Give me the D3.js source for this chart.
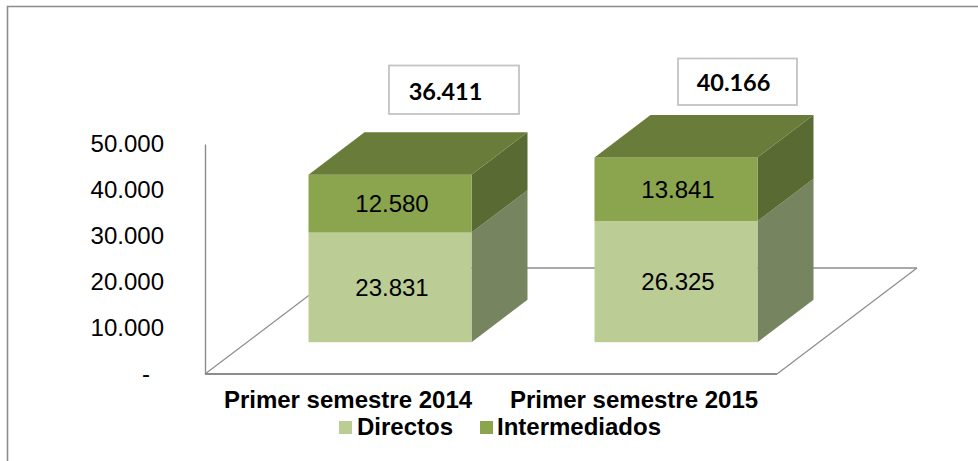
<!DOCTYPE html>
<html>
<head>
<meta charset="utf-8">
<script src="https://cdn.jsdelivr.net/npm/d3@7"></script>
<style>
  html, body { margin: 0; padding: 0; background: #fff; overflow: hidden; }
  svg { display: block; }
  text { font-family: "Liberation Sans", Arial, sans-serif; fill: #000; }
</style>
</head>
<body>
<div id="app"></div>
<script>
const categories = ['Primer semestre 2014', 'Primer semestre 2015'];
const seriesNames = ['Directos', 'Intermediados'];
const directos = [23831, 26325];
const intermediados = [12580, 13841];
const totals = [36411, 40166];
const yTicks = [0, 10000, 20000, 30000, 40000, 50000];

const w = 978;
const h = 461;

const svg = d3.select('#app')
  .append('svg')
  .attr('width', w)
  .attr('height', h);

const es = d3.formatLocale({ decimal: ',', thousands: '.', grouping: [3], currency: ['', ''] });
const fmt = es.format(',d');

// outer frame, only top and left are visible in the picture
svg.append('path')
  .attr('d', 'M7.5,461V6.5H978')
  .attr('fill', 'none')
  .attr('stroke', '#8c8c8c')
  .attr('stroke-width', 1.6);

/////////SCALES//////////
const xScale = d3.scaleBand()
  .domain(categories)
  .range([205, 777])
  .paddingInner(0)
  .paddingOuter(0);

const yScale = d3.scaleLinear()
  .domain([0, 50000])
  .range([374, 144]);

// depth of the 3d floor, 0 is the front edge and 1 the back wall
const depthX = d3.scaleLinear().domain([0, 1]).range([0, 140]);
const depthY = d3.scaleLinear().domain([0, 1]).range([0, -106]);
const barWidth = 163;
const barDepthStart = 0.3;
const barDepthEnd = 0.7;

/////////FLOOR//////////
const floorPoint = (p) => [
  xScale.range()[0] + (xScale.range()[1] - xScale.range()[0]) * p[1] + depthX(p[0]),
  yScale(0) + depthY(p[0])
];

svg.append('line')
  .attr('x1', floorPoint([0, 0])[0]).attr('y1', floorPoint([0, 0])[1])
  .attr('x2', floorPoint([1, 0])[0]).attr('y2', floorPoint([1, 0])[1])
  .attr('stroke', '#8c8c8c').attr('stroke-width', 1.2);

svg.append('line')
  .attr('x1', floorPoint([1, 0])[0]).attr('y1', floorPoint([1, 0])[1])
  .attr('x2', floorPoint([1, 1])[0]).attr('y2', floorPoint([1, 1])[1])
  .attr('stroke', '#8c8c8c').attr('stroke-width', 1.6);

svg.append('line')
  .attr('x1', floorPoint([1, 1])[0]).attr('y1', floorPoint([1, 1])[1])
  .attr('x2', floorPoint([0, 1])[0]).attr('y2', floorPoint([0, 1])[1])
  .attr('stroke', '#8c8c8c').attr('stroke-width', 1.2);

svg.append('line')
  .attr('x1', floorPoint([0, 0])[0]).attr('y1', floorPoint([0, 0])[1])
  .attr('x2', floorPoint([0, 1])[0]).attr('y2', floorPoint([0, 1])[1])
  .attr('stroke', '#8c8c8c').attr('stroke-width', 1.8);

/////////AXES//////////
const yAxis = d3.axisLeft(yScale)
  .tickValues(yTicks)
  .tickSize(0)
  .tickPadding(41)
  .tickFormat((d) => d === 0 ? '-' : fmt(d));

const yG = svg.append('g')
  .attr('transform', 'translate(205,0)')
  .call(yAxis);

yG.select('.domain').attr('stroke', '#8c8c8c').attr('stroke-width', 1.4);
yG.selectAll('text')
  .style('font-family', '"Liberation Sans", Arial, sans-serif')
  .style('font-size', '24px')
  .attr('dx', (d) => d === 0 ? -14 : 0);

const xAxis = d3.axisBottom(xScale).tickSize(0).tickPadding(17);

const xG = svg.append('g')
  .attr('transform', 'translate(0,374)')
  .call(xAxis);

xG.select('.domain').remove();
xG.selectAll('text')
  .style('font-family', '"Liberation Sans", Arial, sans-serif')
  .style('font-size', '24px')
  .style('font-weight', 'bold');

/////////BARS//////////
const stackData = categories.map((c, i) => ({ category: c, Directos: directos[i], Intermediados: intermediados[i] }));
const stacked = d3.stack().keys(seriesNames)(stackData);

const frontColors = d3.scaleOrdinal().domain(seriesNames).range(['#bbcd95', '#8aa54e']);
const sideColors = d3.scaleOrdinal().domain(seriesNames).range(['#76845f', '#596b33']);
const topColor = '#6a7c3a';

const shiftX = depthX(barDepthEnd) - depthX(barDepthStart);
const shiftY = depthY(barDepthEnd) - depthY(barDepthStart);
const barLeft = (c) => xScale(c) + xScale.bandwidth() / 2 + depthX(barDepthStart) - barWidth / 2;
const barY = (v) => yScale(v) + depthY(barDepthStart);

const toPath = (pts) => 'M' + pts.map((p) => p.join(',')).join('L') + 'Z';

const layers = svg.selectAll('.layer')
  .data(stacked)
  .enter()
  .append('g')
  .attr('class', 'layer');

// side faces
layers.selectAll('.side')
  .data((s) => s.map((d) => ({ key: s.key, d0: d[0], d1: d[1], category: d.data.category })))
  .enter()
  .append('path')
  .attr('class', 'side')
  .attr('fill', (d) => sideColors(d.key))
  .attr('d', (d) => {
    const x = barLeft(d.category) + barWidth;
    return toPath([
      [x, barY(d.d0)],
      [x + shiftX, barY(d.d0) + shiftY],
      [x + shiftX, barY(d.d1) + shiftY],
      [x, barY(d.d1)]
    ]);
  });

// front faces
layers.selectAll('.front')
  .data((s) => s.map((d) => ({ key: s.key, d0: d[0], d1: d[1], category: d.data.category })))
  .enter()
  .append('rect')
  .attr('class', 'front')
  .attr('x', (d) => barLeft(d.category))
  .attr('y', (d) => barY(d.d1))
  .attr('width', barWidth)
  .attr('height', (d) => barY(d.d0) - barY(d.d1))
  .attr('fill', (d) => frontColors(d.key));

// top faces
svg.selectAll('.top')
  .data(categories)
  .enter()
  .append('path')
  .attr('class', 'top')
  .attr('fill', topColor)
  .attr('d', (c, i) => {
    const x = barLeft(c);
    const y = barY(totals[i]);
    return toPath([
      [x, y],
      [x + shiftX, y + shiftY],
      [x + shiftX + barWidth, y + shiftY],
      [x + barWidth, y]
    ]);
  });

// value labels
layers.selectAll('.value')
  .data((s) => s.map((d) => ({ d0: d[0], d1: d[1], value: d[1] - d[0], category: d.data.category })))
  .enter()
  .append('text')
  .attr('class', 'value')
  .attr('x', (d) => barLeft(d.category) + barWidth / 2 + 2)
  .attr('y', (d) => (barY(d.d0) + barY(d.d1)) / 2)
  .attr('dy', '0.35em')
  .attr('text-anchor', 'middle')
  .style('font-size', '24px')
  .text((d) => fmt(d.value));

//////////TOTAL BOXES//////////
const boxLeft = [389, 678];
const boxTop = [65.5, 58.5];
const boxWidth = [130, 119];
const boxHeight = [48.5, 46.5];
const totalTextX = [445.5, 733.5];
const totalTextY = [92, 83];

const boxes = svg.selectAll('.box')
  .data(totals)
  .enter()
  .append('g')
  .attr('class', 'box');

boxes.append('rect')
  .attr('x', (d, i) => boxLeft[i])
  .attr('y', (d, i) => boxTop[i])
  .attr('width', (d, i) => boxWidth[i])
  .attr('height', (d, i) => boxHeight[i])
  .attr('fill', '#fff')
  .attr('stroke', '#c4c4c4')
  .attr('stroke-width', 1.8);

boxes.append('text')
  .attr('x', (d, i) => totalTextX[i])
  .attr('y', (d, i) => totalTextY[i])
  .attr('dy', '0.36em')
  .attr('text-anchor', 'middle')
  .style('font-family', 'Lato, sans-serif')
  .style('font-weight', 'bold')
  .style('font-size', '23.5px')
  .text((d) => fmt(d));

//////////LEGEND//////////
const legendSquareX = [339, 480];
const legendTextX = [357, 497];

const legend = svg.selectAll('.legendItem')
  .data(seriesNames)
  .enter()
  .append('g')
  .attr('class', 'legendItem');

legend.append('rect')
  .attr('x', (d, i) => legendSquareX[i])
  .attr('y', 421)
  .attr('width', 13)
  .attr('height', 13)
  .attr('fill', (d) => frontColors(d));

legend.append('text')
  .attr('x', (d, i) => legendTextX[i])
  .attr('y', 435)
  .style('font-size', '24px')
  .style('font-weight', 'bold')
  .text((d) => d);
</script>
</body>
</html>
